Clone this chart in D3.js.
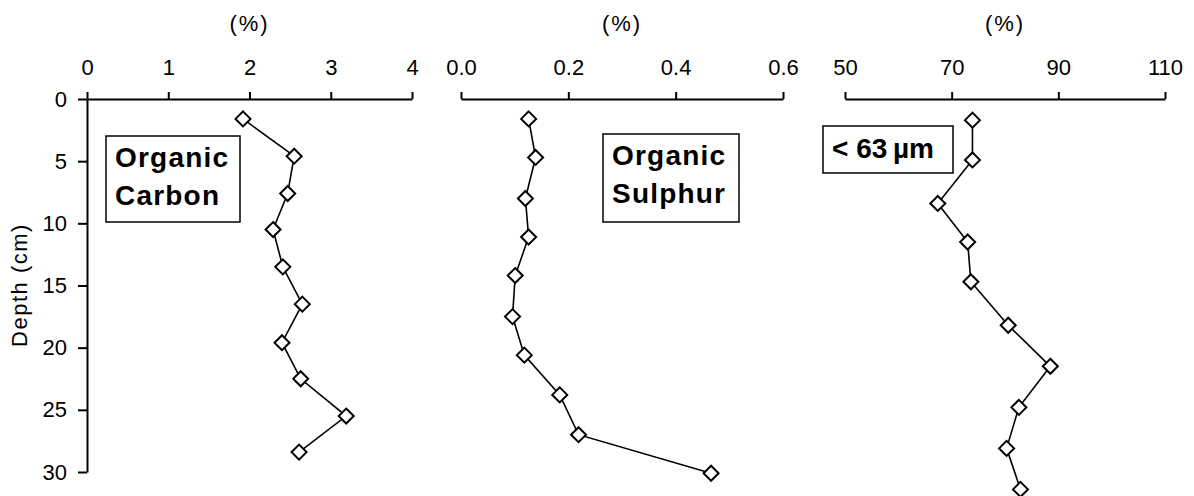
<!DOCTYPE html>
<html>
<head>
<meta charset="utf-8">
<script src="https://cdn.jsdelivr.net/npm/d3@7"></script>
<style>
  body { margin: 0; background: #fff; }
  svg { display: block; }
  svg text { font-family: "Liberation Sans", Arial, Helvetica, sans-serif; fill: #000; }
  .axis path, .axis line { stroke: #000; stroke-width: 2px; }
  .axis text { font-size: 22px; }
  .lbl { font-size: 28px; font-weight: bold; letter-spacing: 1.2px; }
</style>
</head>
<body>
<svg id="chart" width="1194" height="496"></svg>
<script>
// depth (cm) and readings for each profile
var carbonDepth = [1.6, 4.6, 7.6, 10.5, 13.5, 16.5, 19.6, 22.5, 25.5, 28.4];
var carbonVal   = [1.92, 2.55, 2.47, 2.29, 2.41, 2.65, 2.40, 2.63, 3.19, 2.61];

var sulphurDepth = [1.6, 4.7, 8.0, 11.1, 14.2, 17.5, 20.6, 23.8, 27.0, 30.1];
var sulphurVal   = [0.126, 0.139, 0.120, 0.126, 0.101, 0.096, 0.118, 0.184, 0.219, 0.466];

var fineDepth = [1.7, 4.9, 8.4, 11.5, 14.7, 18.2, 21.5, 24.8, 28.1, 31.4];
var fineVal   = [73.9, 73.9, 67.4, 73.0, 73.6, 80.6, 88.5, 82.6, 80.3, 82.9];

var depthTicks   = [0, 5, 10, 15, 20, 25, 30];
var carbonTicks  = [0, 1, 2, 3, 4];
var sulphurTicks = [0, 0.2, 0.4, 0.6];
var fineTicks    = [50, 70, 90, 110];

var svg = d3.select("#chart");

var yScale = d3.scaleLinear().domain([0, 30]).range([99, 472]);

var panels = [
	{ depth: carbonDepth, vals: carbonVal, dom: [0, 4], rng: [87, 412], ticks: carbonTicks, fmt: d3.format("d"),
	  box: [106, 136, 134, 86], lines: ["Organic", "Carbon"] },
	{ depth: sulphurDepth, vals: sulphurVal, dom: [0, 0.6], rng: [461, 783], ticks: sulphurTicks, fmt: d3.format(".1f"),
	  box: [603, 134, 136, 88], lines: ["Organic", "Sulphur"] },
	{ depth: fineDepth, vals: fineVal, dom: [50, 110], rng: [845, 1165], ticks: fineTicks, fmt: d3.format("d"),
	  box: [823, 126, 130, 47], lines: ["< 63\u2009µm"] }
];

panels.forEach(function(p, idx) {
	var x = d3.scaleLinear().domain(p.dom).range(p.rng);

	//Top axis
	svg.append("g")
		.attr("class", "axis")
		.attr("transform", "translate(0," + yScale(0) + ")")
		.call(d3.axisTop(x).tickValues(p.ticks).tickFormat(p.fmt)
			.tickSize(7).tickSizeOuter(0).tickPadding(17));

	svg.append("text")
		.attr("x", (p.rng[0] + p.rng[1]) / 2)
		.attr("y", 31)
		.attr("text-anchor", "middle")
		.style("font-size", "22px")
		.style("letter-spacing", "2px")
		.text("(%)");

	//Label box
	var b = p.box;
	svg.append("rect")
		.attr("x", b[0]).attr("y", b[1])
		.attr("width", b[2]).attr("height", b[3])
		.attr("fill", "#fff").attr("stroke", "#000").attr("stroke-width", 1.5);
	var t = svg.append("text")
		.attr("class", "lbl")
		.attr("x", b[0] + 9);
	if (p.lines.length == 1) {
		t.attr("y", b[1] + 32).style("letter-spacing", "0px").text(p.lines[0]);
	} else {
		t.selectAll("tspan").data(p.lines).enter()
			.append("tspan")
			.attr("x", b[0] + 9)
			.attr("y", function(d, i) { return b[1] + 31 + i * 38; })
			.text(function(d) { return d; });
	}

	//Line
	var pts = p.vals.map(function(v, i) { return [v, p.depth[i]]; });
	var lineGen = d3.line()
		.x(function(d) { return x(d[0]); })
		.y(function(d) { return yScale(d[1]); });
	svg.append("path")
		.attr("d", lineGen(pts))
		.attr("fill", "none")
		.attr("stroke", "#000")
		.attr("stroke-width", 1.6);

	//Diamond markers
	svg.selectAll("path.pt" + idx)
		.data(pts)
		.enter()
		.append("path")
		.attr("class", "pt" + idx)
		.attr("d", "M0,-7.5L7.5,0L0,7.5L-7.5,0Z")
		.attr("transform", function(d) { return "translate(" + x(d[0]) + "," + yScale(d[1]) + ")"; })
		.attr("fill", "#fff")
		.attr("stroke", "#000")
		.attr("stroke-width", 2);
});

//Depth axis on first panel
svg.append("g")
	.attr("class", "axis")
	.attr("transform", "translate(87,0)")
	.call(d3.axisLeft(yScale).tickValues(depthTicks)
		.tickSize(9).tickSizeOuter(0).tickPadding(11));

svg.append("text")
	.attr("transform", "translate(27,285) rotate(-90)")
	.attr("text-anchor", "middle")
	.style("font-size", "22px")
	.style("letter-spacing", "1.5px")
	.text("Depth (cm)");
</script>
</body>
</html>
